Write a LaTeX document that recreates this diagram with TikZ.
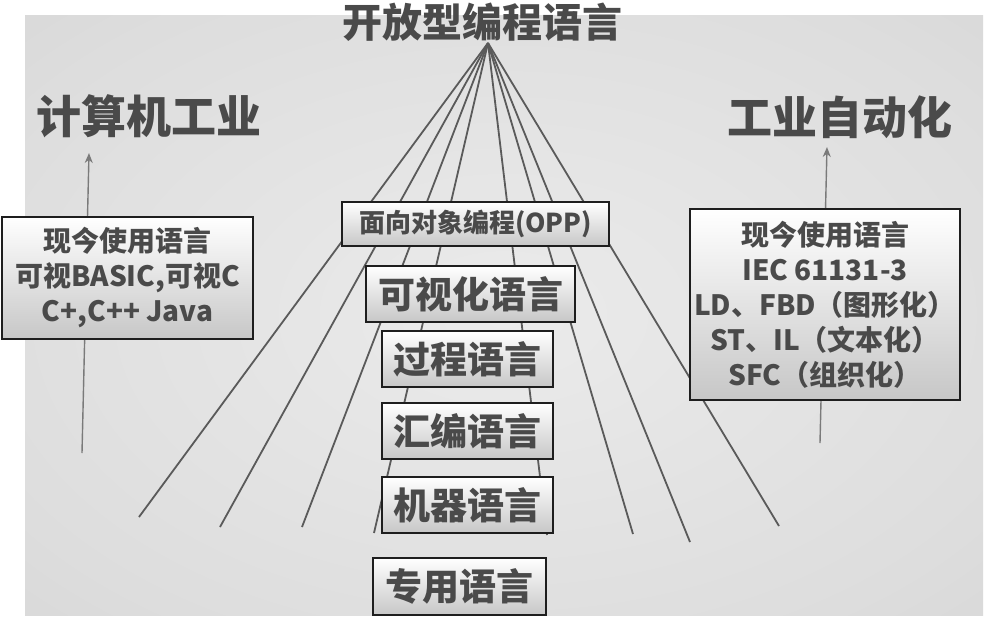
\documentclass[tikz,border=0pt]{standalone}
\usepackage{fontspec}
\setmainfont{Noto Sans CJK SC}
\usetikzlibrary{arrows.meta}
\definecolor{txt}{HTML}{4A4A4A}
\definecolor{ln}{HTML}{5A5A5A}
\definecolor{arrc}{HTML}{7A7A7A}
\definecolor{boxb}{HTML}{1E1E1E}
\definecolor{bgin}{HTML}{EBEBEB}
\definecolor{bgmid}{HTML}{DDDDDD}
\definecolor{bgout}{HTML}{C8C8C8}
\pgfdeclareradialshading{bgshade}{\pgfpoint{0bp}{0bp}}{color(0bp)=(bgin); color(30bp)=(bgmid); color(62bp)=(bgout)}
\begin{document}
\begin{tikzpicture}[x=0.5pt,y=-0.5pt,
  titletext/.style={text=txt,font=\bfseries\fontsize{20}{24}\selectfont,inner sep=0pt},
  bigtext/.style={text=txt,font=\bfseries\fontsize{22.5}{26}\selectfont,inner sep=0pt},
  fanline/.style={draw=ln,line width=0.9pt},
  uparrow/.style={draw=arrc,line width=0.7pt,-{Stealth[length=5pt,width=4pt]}},
  boxbase/.style={draw=boxb,line width=1.2pt,top color=white,bottom color=black!22,text=txt,inner sep=0pt,align=center},
  langbox/.style={boxbase,font=\bfseries\fontsize{18.5}{22}\selectfont,minimum width=85.5pt,minimum height=28pt},
  infobox/.style={boxbase,font=\bfseries\fontsize{14}{17.5}\selectfont}
]
\useasboundingbox (0,0) rectangle (992,634);
\fill[white] (0,0) rectangle (992,634);
\shade[shading=bgshade] (25,15) rectangle (983,615);

% title and labels
\node[titletext] (title) at (482,22) {开放型编程语言};
\node[bigtext] (cs) at (149,116) {计算机工业};
\node[bigtext] (ia) at (840,117) {工业自动化};

% fan
\coordinate (apex) at (488,43);
\coordinate (e1) at (139,517);
\coordinate (e2) at (220,527);
\coordinate (e3) at (302,527);
\coordinate (e4) at (374,533);
\coordinate (e5) at (547,535);
\coordinate (e6) at (633,534);
\coordinate (e7) at (690,542);
\coordinate (e8) at (779,526);
\foreach \e in {e1,e2,e3,e4,e5,e6,e7,e8}{\draw[fanline] (apex) -- (\e);}

% arrows
\coordinate (lbot) at (82,453);
\coordinate (ltip) at (89,153);
\coordinate (rbot) at (820,443);
\coordinate (rtip) at (827,147);
\draw[uparrow] (lbot) -- (ltip);
\draw[uparrow] (rbot) -- (rtip);

% language boxes
\node[langbox,font=\bfseries\fontsize{13}{16}\selectfont,minimum width=133.5pt,minimum height=22pt] (opp) at (475.5,224) {面向对象编程(OPP)};
\node[langbox,minimum width=104.5pt] (vis) at (470.5,294) {可视化语言};
\node[langbox] (proc) at (467.5,359) {过程语言};
\node[langbox] (asm) at (467.5,431) {汇编语言};
\node[langbox] (mach) at (467.5,505) {机器语言};
\node[langbox,minimum width=86.5pt,minimum height=28.5pt] (spec) at (459.5,586.5) {专用语言};

% info boxes
\node[infobox,minimum width=125.5pt,minimum height=61pt] (lbox) at (127.5,278) {现今使用语言\\可视BASIC,可视C\\C+,C++ Java};
\node[infobox,minimum width=135pt,minimum height=95.5pt] (rbox) at (825,304.5) {现今使用语言\\IEC 61131-3\\LD、FBD（图形化）\\ST、IL（文本化）\\SFC（组织化）};
\end{tikzpicture}
\end{document}
